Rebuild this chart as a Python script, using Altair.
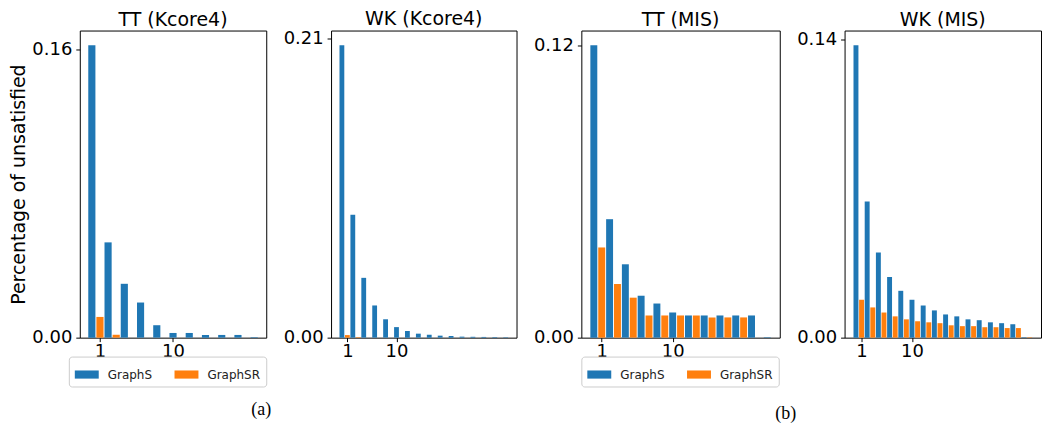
import altair as alt
import pandas as pd

# ---- data ----
panel_titles = ["TT (Kcore4)", "WK (Kcore4)", "TT (MIS)", "WK (MIS)"]
series_names = ["GraphS", "GraphSR"]
series_colors = ["#1f77b4", "#ff7f0e"]
x_tick_values = [1, 10]
captions = ["(a)", "(b)"]
y_title = "Percentage of unsatisfied"

tt_kcore4_graphs = [0.1624, 0.0529, 0.0299, 0.0195, 0.0069, 0.0026, 0.0026, 0.0015, 0.0015, 0.0015, 0.0003]
tt_kcore4_graphsr = [0.0115, 0.0016, 0.0, 0.0, 0.0, 0.0, 0.0, 0.0, 0.0, 0.0]

wk_kcore4_graphs = [0.2054, 0.0863, 0.0420, 0.0226, 0.0129, 0.0074, 0.0046, 0.0028, 0.0021, 0.0014,
                    0.0012, 0.0007, 0.0006, 0.0005, 0.0004, 0.0003]
wk_kcore4_graphsr = [0.0018, 0.0004, 0.0, 0.0, 0.0, 0.0, 0.0, 0.0, 0.0, 0.0, 0.0, 0.0, 0.0, 0.0, 0.0]

tt_mis_graphs = [0.1200, 0.0486, 0.0301, 0.0172, 0.0140, 0.0103, 0.0091, 0.0091, 0.0091, 0.0091, 0.0091, 0.0002]
tt_mis_graphsr = [0.0370, 0.0220, 0.0164, 0.0091, 0.0091, 0.0091, 0.0091, 0.0083, 0.0083, 0.0083, 0.0]

wk_mis_graphs = [0.1374, 0.0640, 0.0400, 0.0285, 0.0220, 0.0178, 0.0151, 0.0128, 0.0109, 0.0100,
                 0.0086, 0.0082, 0.0072, 0.0068, 0.0063, 0.0002]
wk_mis_graphsr = [0.0178, 0.0142, 0.0118, 0.0100, 0.0086, 0.0077, 0.0072, 0.0068, 0.0058, 0.0054,
                  0.0054, 0.0049, 0.0049, 0.0045, 0.0045, 0.0002]

BAR_W = 0.88
FONT = "DejaVu Sans"
PLOT_H = 308
RECT = "M-1,-0.34H1V0.34H-1Z"


def make_panel(title, s_vals, sr_vals, width, first=False, legend_x=None, caption=None, caption_xy=None):
    rows = []
    for i, v in enumerate(s_vals):
        rows.append({"group": i, "series": series_names[0], "value": v})
    for i, v in enumerate(sr_vals):
        rows.append({"group": i, "series": series_names[1], "value": v})
    df = pd.DataFrame(rows)

    last = max(2 * (len(s_vals) - 1), 2 * (len(sr_vals) - 1) + 1)
    span = last + BAR_W
    lo = -BAR_W / 2 - 0.05 * span
    hi = last + BAR_W / 2 + 0.05 * span
    ymax = max(max(s_vals), max(sr_vals))

    if legend_x is not None:
        legend = alt.Legend(
            orient="none", legendX=legend_x, legendY=327, direction="horizontal", title=None,
            symbolType=RECT, symbolSize=576, symbolStrokeWidth=0, labelFont=FONT, labelFontSize=12,
            labelColor="#222", labelOffset=9, columnPadding=22, padding=6, strokeColor="#cccccc",
            fillColor="rgba(255,255,255,0.8)", cornerRadius=3,
        )
    else:
        legend = None

    bars = alt.Chart(df).transform_calculate(
        pos="2*datum.group + (datum.series == 'GraphSR' ? 1 : 0)"
    ).transform_calculate(
        x0=f"datum.pos - {BAR_W / 2}", x1=f"datum.pos + {BAR_W / 2}", base="0"
    ).mark_rect().encode(
        x=alt.X("x0:Q", scale=alt.Scale(domain=[lo, hi], nice=False, zero=False),
                axis=alt.Axis(values=x_tick_values, format="d", title=None, grid=False, domain=False,
                              labelFontSize=18, labelFont=FONT, labelColor="black", tickColor="black",
                              tickSize=4, labelPadding=1)),
        x2="x1:Q",
        y=alt.Y("value:Q", scale=alt.Scale(domain=[0, ymax * 1.05], nice=False),
                axis=alt.Axis(values=[0, round(ymax, 2)], format=".2f",
                              title=y_title if first else None, titleFontSize=19, titleFont=FONT,
                              titleFontWeight="normal", titleColor="black", titlePadding=3,
                              grid=False, domain=False, labelFontSize=18, labelFont=FONT,
                              labelColor="black", tickColor="black", tickSize=4, labelPadding=4)),
        y2="base:Q",
        color=alt.Color("series:N", scale=alt.Scale(domain=series_names, range=series_colors), legend=legend),
    )

    layers = [bars]
    if caption is not None:
        cap = alt.Chart(pd.DataFrame({"caption": [caption]})).mark_text(
            font="Liberation Serif", fontSize=18, color="black"
        ).encode(text="caption:N", x=alt.value(caption_xy[0]), y=alt.value(caption_xy[1]))
        layers.append(cap)

    return alt.layer(*layers).properties(
        width=width, height=PLOT_H,
        title=alt.TitleParams(title, fontSize=19, font=FONT, fontWeight="normal", color="black",
                              offset=1, anchor="middle"),
    )


p1 = make_panel(panel_titles[0], tt_kcore4_graphs, tt_kcore4_graphsr, 187, first=True,
                legend_x=-11, caption=captions[0], caption_xy=[182, 381])
p2 = make_panel(panel_titles[1], wk_kcore4_graphs, wk_kcore4_graphsr, 186)
p3 = make_panel(panel_titles[2], tt_mis_graphs, tt_mis_graphsr, 199,
                legend_x=0, caption=captions[1], caption_xy=[205, 385])
p4 = make_panel(panel_titles[3], wk_mis_graphs, wk_mis_graphsr, 197)

chart = alt.hconcat(p1, p2, p3, p4, spacing=65, bounds="flush").resolve_scale(
    color="independent"
).properties(
    padding={"left": 1, "top": 0, "right": 0, "bottom": 0}
).configure_view(
    stroke="black", strokeWidth=1
)

chart.save("out.html", embed_options={"renderer": "svg", "actions": False})
